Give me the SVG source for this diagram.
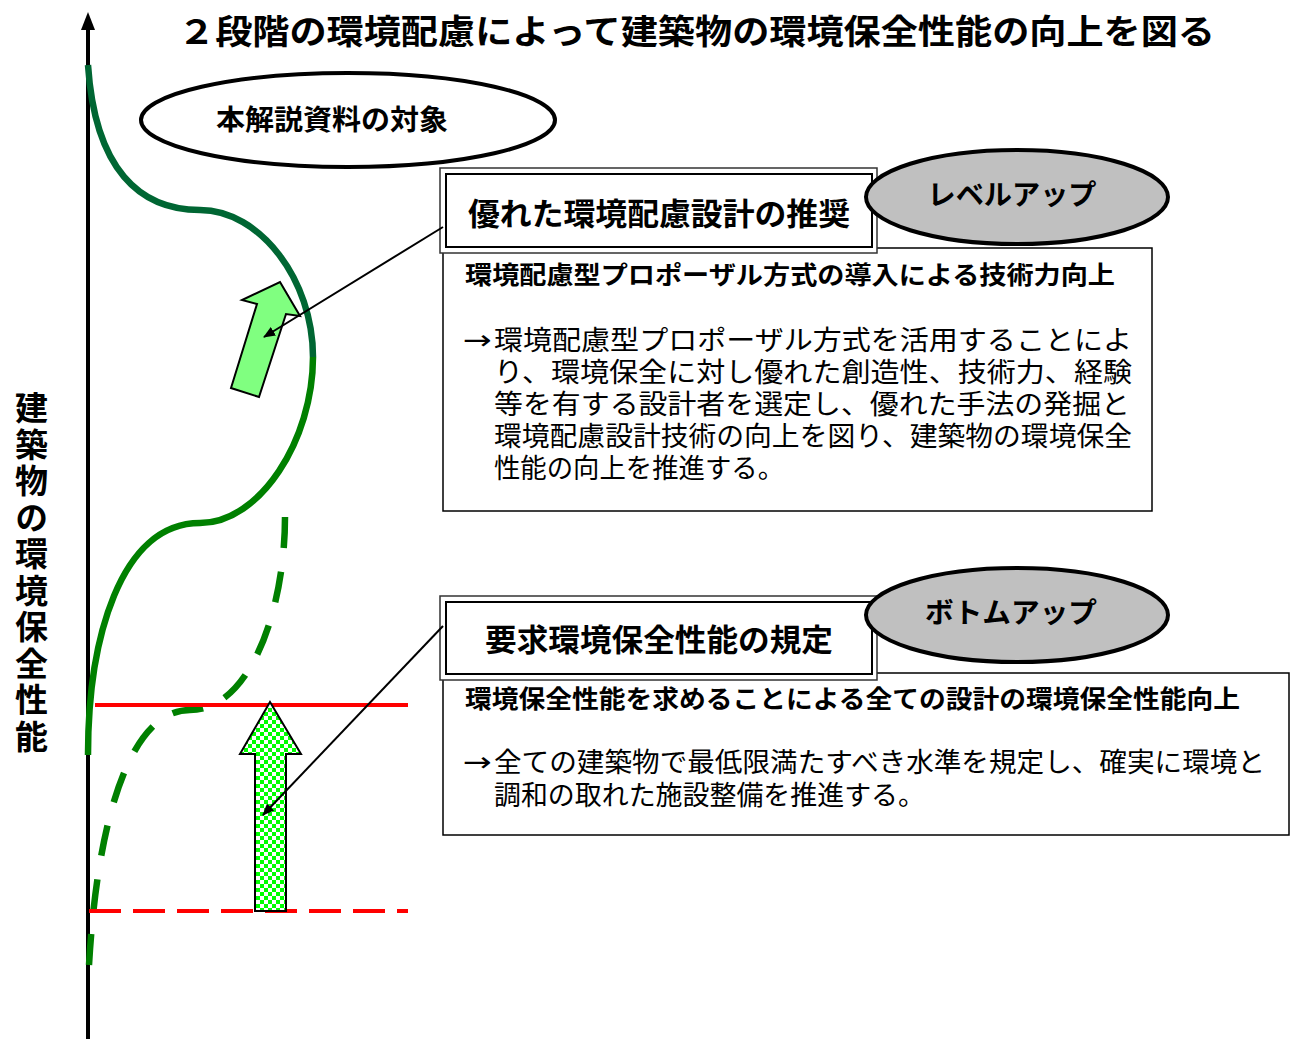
<svg xmlns="http://www.w3.org/2000/svg" width="1294" height="1039" viewBox="0 0 1294 1039">
<style>
.b{font-family:"Liberation Sans","Noto Sans CJK JP",sans-serif;font-weight:bold;fill:#000}
.n{font-family:"Liberation Sans","Noto Sans CJK JP",sans-serif;font-weight:normal;fill:#000}
.arr{font-family:"DejaVu Sans",sans-serif;font-weight:normal}
.ell{fill:#fff;stroke:#000;stroke-width:4}
.gell{fill:#c0c0c0;stroke:#000;stroke-width:4}
.outer{fill:#fff;stroke:#333;stroke-width:1.5}
.inner{fill:none;stroke:#000;stroke-width:2}
.desc{fill:#fff;stroke:#000;stroke-width:1.5}
.conn{stroke:#000;stroke-width:2;fill:none}
</style>
<defs>
<marker id="ah" viewBox="0 0 12 10" refX="11" refY="5" markerWidth="12" markerHeight="10" markerUnits="userSpaceOnUse" orient="auto">
<path d="M0,0 L12,5 L0,10 z" fill="#000"/>
</marker>
<pattern id="chk" width="8" height="8" patternUnits="userSpaceOnUse">
<rect width="8" height="8" fill="#fff"/>
<rect width="4" height="4" fill="#00ff00"/>
<rect x="4" y="4" width="4" height="4" fill="#00ff00"/>
</pattern>
</defs>
<rect width="1294" height="1039" fill="#fff"/>

<g id="title">
<text class="b" x="178" y="44" font-size="34" textLength="1037" lengthAdjust="spacingAndGlyphs">２段階の環境配慮によって建築物の環境保全性能の向上を図る</text>
</g>

<g id="axis">
<line x1="88" y1="1039" x2="88" y2="28" stroke="#000" stroke-width="4"/>
<path d="M88,12 L95,30 L81,30 z" fill="#000"/>
</g>

<g id="ylabel">
<text class="b" x="29" y="391" font-size="33" style="writing-mode:vertical-rl" textLength="362" lengthAdjust="spacing">建築物の環境保全性能</text>
</g>

<g id="tilted-arrow">
<path d="M280,282 L300,316 L286,314 L259,397 L231,388 L257,304 L242,300 z" fill="#80ff80" stroke="#000" stroke-width="2" stroke-linejoin="miter"/>
</g>

<g id="curves">
<path d="M88,65 C95,170 140,210 200,210 C260,210 313,280 313,357" fill="none" stroke="#006633" stroke-width="6.5"/>
<path d="M313,357 C313,440 260,523 200,523 C120,523 88,640 88,755" fill="none" stroke="#008000" stroke-width="6.5"/>
<path d="M285,517 C285,610 250,710 190,710 C130,710 95,820 88,985" fill="none" stroke="#008000" stroke-width="6.5" stroke-dasharray="31,24"/>
</g>

<g id="levels">
<line x1="95" y1="705" x2="408" y2="705" stroke="#ff0000" stroke-width="4"/>
<line x1="89" y1="911" x2="408" y2="911" stroke="#ff0000" stroke-width="4" stroke-dasharray="32,12"/>
</g>

<g id="up-arrow">
<path d="M270,702 L301,754 L286,754 L286,911 L255,911 L255,754 L240,754 z" fill="url(#chk)" stroke="#000" stroke-width="2"/>
</g>

<g id="target-ellipse">
<ellipse class="ell" cx="348" cy="120" rx="207" ry="47"/>
<text class="b" x="332" y="130" font-size="28" text-anchor="middle" textLength="232" lengthAdjust="spacingAndGlyphs">本解説資料の対象</text>
</g>

<g id="desc1">
<rect class="desc" x="443" y="248" width="709" height="263"/>
<text class="b" x="465" y="284" font-size="25" textLength="650" lengthAdjust="spacingAndGlyphs">環境配慮型プロポーザル方式の導入による技術力向上</text>
<text class="n" font-size="27">
<tspan class="arr" x="463" y="349" textLength="29" lengthAdjust="spacingAndGlyphs">→</tspan>
<tspan x="494" y="350" textLength="638" lengthAdjust="spacingAndGlyphs">環境配慮型プロポーザル方式を活用することによ</tspan>
<tspan x="494" y="382" textLength="638" lengthAdjust="spacingAndGlyphs">り、環境保全に対し優れた創造性、技術力、経験</tspan>
<tspan x="494" y="414" textLength="636" lengthAdjust="spacingAndGlyphs">等を有する設計者を選定し、優れた手法の発掘と</tspan>
<tspan x="494" y="446" textLength="638" lengthAdjust="spacingAndGlyphs">環境配慮設計技術の向上を図り、建築物の環境保全</tspan>
<tspan x="494" y="478" textLength="290" lengthAdjust="spacingAndGlyphs">性能の向上を推進する。</tspan>
</text>
</g>

<g id="box1">
<rect class="outer" x="440" y="168" width="437" height="85"/>
<rect class="inner" x="446" y="174" width="426" height="73"/>
<text class="b" x="659" y="225" font-size="31" text-anchor="middle" textLength="382" lengthAdjust="spacingAndGlyphs">優れた環境配慮設計の推奨</text>
</g>

<g id="levelup">
<ellipse class="gell" cx="1017" cy="197" rx="151" ry="47"/>
<text class="b" x="1012" y="205" font-size="28" text-anchor="middle" textLength="169" lengthAdjust="spacingAndGlyphs">レベルアップ</text>
</g>

<g id="desc2">
<rect class="desc" x="443" y="673" width="846" height="162"/>
<text class="b" x="465" y="708" font-size="25" textLength="775" lengthAdjust="spacingAndGlyphs">環境保全性能を求めることによる全ての設計の環境保全性能向上</text>
<text class="n" font-size="27">
<tspan class="arr" x="463" y="771" textLength="29" lengthAdjust="spacingAndGlyphs">→</tspan>
<tspan x="494" y="772" textLength="771" lengthAdjust="spacingAndGlyphs">全ての建築物で最低限満たすべき水準を規定し、確実に環境と</tspan>
<tspan x="494" y="805" textLength="431" lengthAdjust="spacingAndGlyphs">調和の取れた施設整備を推進する。</tspan>
</text>
</g>

<g id="box2">
<rect class="outer" x="440" y="596" width="437" height="84"/>
<rect class="inner" x="446" y="602" width="426" height="72"/>
<text class="b" x="659" y="651" font-size="31" text-anchor="middle" textLength="348" lengthAdjust="spacingAndGlyphs">要求環境保全性能の規定</text>
</g>

<g id="bottomup">
<ellipse class="gell" cx="1017" cy="615" rx="151" ry="47"/>
<text class="b" x="1011" y="623" font-size="28" text-anchor="middle" textLength="172" lengthAdjust="spacingAndGlyphs">ボトムアップ</text>
</g>

<g id="connectors">
<line class="conn" x1="443" y1="227" x2="264" y2="337" marker-end="url(#ah)"/>
<line class="conn" x1="443" y1="626" x2="263" y2="815" marker-end="url(#ah)"/>
</g>
</svg>
